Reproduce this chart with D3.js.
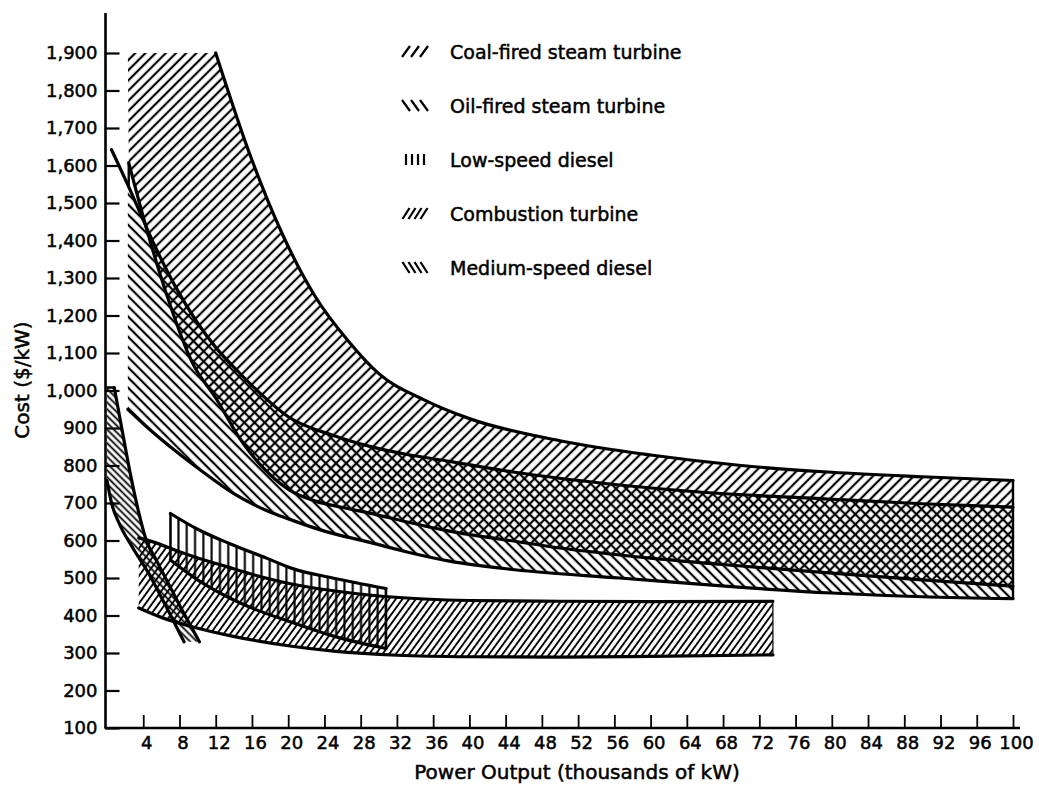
<!DOCTYPE html>
<html>
<head>
<meta charset="utf-8">
<script src="https://cdn.jsdelivr.net/npm/d3@7"></script>
<style>
  body { margin: 0; background: #fff; }
  svg { display: block; }
  text { font-family: "DejaVu Sans", sans-serif; fill: #000; }
</style>
</head>
<body>
<svg width="1039" height="793"></svg>
<script>
// values: [thousands of kW, $/kW]
const coalTop = [[12,1900],[15.7,1634],[19.3,1420],[23,1250],[26.7,1130],[30,1045],[35,975],[40,925],[50,866],[60,828],[70,800],[80,782],[90,770],[100,760]];
const coalBottom = [[2.4,1607],[4.5,1420],[6.5,1262],[9.4,1075],[12,980],[15,860],[17.6,785],[20.1,735],[23,705],[26,688],[29,673],[33,650],[37.8,625],[45,598],[50,580],[60,553],[70,532],[80,513],[90,495],[100,478]];
const oilTop = [[0.5,1642],[2.4,1543],[5,1400],[7.6,1275],[10,1180],[12,1115],[14.5,1050],[16.8,995],[20,930],[25,880],[29,851],[33,830],[37.8,811],[45,782],[55,752],[65,730],[80,710],[90,698],[100,689]];
const oilBottom = [[2.3,950],[5,890],[7.5,840],[10.2,790],[14,725],[17.6,680],[20.1,657],[24,625],[29,595],[33,570],[37.8,545],[45,522],[56.6,500],[70,475],[80,460],[90,450],[100,445]];
const lowTop = [[7,672],[10,630],[13.5,592],[17.6,553],[20.5,525],[24.9,500],[30.8,472]];
const lowBottom = [[7,548],[10,495],[13.1,452],[16.5,415],[20.4,382],[25,345],[30.8,312]];
const combTop = [[3.5,607],[5,597],[8,570],[10.2,552],[13.1,531],[16,510],[20.4,484],[25,466],[30,452],[35,444],[40,440],[50,438],[60,437],[73.5,438]];
const combBottom = [[3.5,420],[6,395],[9.4,370],[13.8,345],[20.4,318],[25,305],[32,294],[40,290],[50,289],[60,291],[73.5,295]];
const medTop = [[0.8,1008],[1.7,890],[2.6,775],[3.5,675],[4.3,603],[5.5,545],[7,475],[8.5,405],[10.2,330]];
const medBottom = [[0,760],[0.5,700],[1.3,648],[2.8,582],[4.6,512],[6.5,425],[8.5,330]];

const coalCap = 1900;     // hatch is cut off at the top tick
const hatchStart = 2.3;   // left edge of the steam turbine hatching

const xTicks = d3.range(4, 101, 4);
const yTicks = d3.range(100, 1901, 100);

const legendLabels = ["Coal-fired steam turbine", "Oil-fired steam turbine", "Low-speed diesel", "Combustion turbine", "Medium-speed diesel"];

const svg = d3.select("svg");
const x = d3.scaleLinear().domain([0, 100]).range([107, 1013]);
const y = d3.scaleLinear().domain([100, 1900]).range([728, 53]);

// hatch patterns
const defs = svg.append("defs");
function hatch(id, gap, angle, w) {
  const p = defs.append("pattern")
    .attr("id", id)
    .attr("patternUnits", "userSpaceOnUse")
    .attr("width", gap)
    .attr("height", gap)
    .attr("patternTransform", "rotate(" + angle + ")");
  p.append("line")
    .attr("x1", gap / 2).attr("x2", gap / 2)
    .attr("y1", -1).attr("y2", gap + 1)
    .attr("stroke", "#000")
    .attr("stroke-width", w);
}
hatch("coal", 7.2, 45, 2.2);
hatch("oil", 7.2, -45, 2.2);
hatch("low", 8.3, 0, 2.1);
hatch("comb", 5.4, 36, 1.9);
hatch("med", 4.8, -45, 1.8);

defs.append("clipPath").attr("id", "steamClip")
  .append("rect")
  .attr("x", x(hatchStart)).attr("y", 0)
  .attr("width", 1039).attr("height", 793);

const line = d3.line()
  .x(d => x(d[0]))
  .y(d => y(d[1]))
  .curve(d3.curveMonotoneX);
const straight = d3.line().x(d => x(d[0])).y(d => y(d[1]));
const seg = pts => line(pts).replace(/^M/, "L");

function band(upper, lower, start) {
  let p = start ? "M" + x(start[0]) + "," + y(start[1]) + seg(upper) : line(upper);
  return p + seg(lower.slice().reverse()) + "Z";
}

const first = a => a[0];
const last = a => a[a.length - 1];

//fills
const fills = svg.append("g");
fills.append("path")
  .attr("d", band(coalTop, coalBottom, [hatchStart, coalCap]))
  .attr("fill", "url(#coal)");
fills.append("path")
  .attr("d", band(oilTop, oilBottom))
  .attr("clip-path", "url(#steamClip)")
  .attr("fill", "url(#oil)");
fills.append("path")
  .attr("d", band(medTop, medBottom, [0, first(medTop)[1]]))
  .attr("fill", "url(#med)");
fills.append("path")
  .attr("d", band(combTop, combBottom))
  .attr("fill", "url(#comb)");
fills.append("path")
  .attr("d", band(lowTop, lowBottom))
  .attr("fill", "url(#low)");

//outlines
const outlines = svg.append("g")
  .attr("fill", "none")
  .attr("stroke", "#000")
  .attr("stroke-linecap", "round")
  .attr("stroke-width", 3.2);

[coalTop, coalBottom, oilTop, oilBottom, lowTop, lowBottom, combTop, combBottom, medTop, medBottom]
  .forEach(c => outlines.append("path").attr("d", line(c)));

const edges = [
  [[100, last(coalTop)[1]], [100, last(oilBottom)[1]]],
  [first(lowTop), first(lowBottom)],
  [last(lowTop), last(lowBottom)],
  [[0, first(medTop)[1]], first(medTop)],
  [first(coalBottom), [first(coalBottom)[0], oilTop[1][1]]]
];
edges.forEach(e => outlines.append("path").attr("d", straight(e)).attr("stroke-width", 2.4));
outlines.append("path")
  .attr("d", straight([last(combTop), last(combBottom)]))
  .attr("stroke-width", 1.2);

// axes
const yAxis = svg.append("g")
  .attr("transform", "translate(105.5,0)")
  .call(d3.axisLeft(y).tickValues(yTicks).tickFormat(d3.format(",")).tickSize(-14).tickSizeOuter(0).tickPadding(8));
yAxis.select(".domain").remove();
yAxis.selectAll(".tick line").attr("stroke-width", 2.2);
yAxis.selectAll(".tick text")
  .style("font-size", "18px")
  .attr("stroke", "#000").attr("stroke-width", 0.5);
yAxis.append("line")
  .attr("y1", y.range()[0]).attr("y2", 13)
  .attr("stroke", "#000").attr("stroke-width", 2.6);

const xAxis = svg.append("g")
  .attr("transform", "translate(0," + y(100) + ")")
  .call(d3.axisBottom(x).tickValues(xTicks).tickSize(-13).tickSizeOuter(0).tickPadding(8));
xAxis.select(".domain").remove();
xAxis.selectAll(".tick line").attr("stroke-width", 1.8);
xAxis.selectAll(".tick text")
  .attr("dx", 3)
  .style("font-size", "18px")
  .attr("stroke", "#000").attr("stroke-width", 0.5);
xAxis.append("line")
  .attr("x1", 104.5).attr("x2", 1020)
  .attr("stroke", "#000").attr("stroke-width", 2.6);

svg.append("text")
  .attr("x", 577).attr("y", 779)
  .attr("text-anchor", "middle")
  .style("font-size", "20px")
  .attr("stroke", "#000").attr("stroke-width", 0.5)
  .text("Power Output (thousands of kW)");

svg.append("text")
  .attr("transform", "translate(29,380) rotate(-90)")
  .attr("text-anchor", "middle")
  .style("font-size", "20px")
  .attr("stroke", "#000").attr("stroke-width", 0.5)
  .text("Cost ($/kW)");

// legend
const glyphs = [
  { n: 3, gap: 9, lean: 8 },
  { n: 3, gap: 9, lean: -8 },
  { n: 4, gap: 6, lean: 0 },
  { n: 4, gap: 6, lean: 7 },
  { n: 4, gap: 6, lean: -7 }
];
const legend = svg.append("g").attr("transform", "translate(402,52)");
legendLabels.forEach((label, i) => {
  const row = legend.append("g").attr("transform", "translate(0," + (i * 54) + ")");
  const g = glyphs[i];
  d3.range(g.n).forEach(k => {
    const cx = 4 + k * g.gap;
    row.append("line")
      .attr("x1", cx - g.lean / 2).attr("y1", 5)
      .attr("x2", cx + g.lean / 2).attr("y2", -6)
      .attr("stroke", "#000").attr("stroke-width", 2.2);
  });
  row.append("text")
    .attr("x", 48).attr("dy", "0.36em")
    .style("font-size", "19px")
    .attr("stroke", "#000").attr("stroke-width", 0.5)
    .text(label);
});
</script>
</body>
</html>
